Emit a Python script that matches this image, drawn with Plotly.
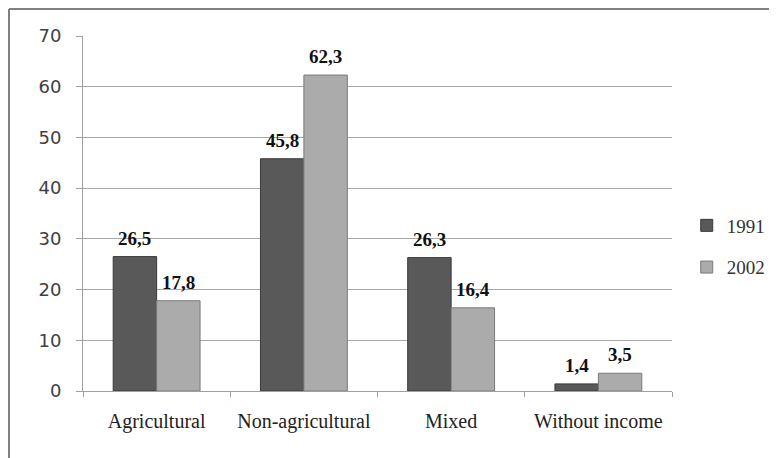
import plotly.graph_objects as go

categories = ["Agricultural", "Non-agricultural", "Mixed", "Without income"]
values_1991 = [26.5, 45.8, 26.3, 1.4]
values_2002 = [17.8, 62.3, 16.4, 3.5]
series_names = ["1991", "2002"]
y_ticks = [0, 10, 20, 30, 40, 50, 60, 70]

def fmt(v):
    return f"{v:.1f}".replace(".", ",")

L, R, T, B = 75, 113, 28, 75
PW, PH = 777 - L - R, 458 - T - B
BARGAP = 0.41
bar_px = PW / len(categories) * (1 - BARGAP) / 2

fig = go.Figure()
fig.add_trace(go.Bar(
    x=categories, y=values_1991, name=series_names[0],
    marker=dict(color="#595959", line=dict(color="#3a3a3a", width=1)),
    legendgroup="a",
))
fig.add_trace(go.Bar(
    x=categories, y=values_2002, name=series_names[1],
    marker=dict(color="#ababab", line=dict(color="#7a7a7a", width=1)),
    legendgroup="b",
))

annotations = []
for vals, shift in ((values_1991, -bar_px / 2), (values_2002, bar_px / 2)):
    for c, v in zip(categories, vals):
        annotations.append(dict(
            x=c, y=v, xref="x", yref="y", text=f"<b>{fmt(v)}</b>",
            showarrow=False, yanchor="bottom", xshift=shift, yshift=6,
            font=dict(family="Liberation Serif", size=19, color="#111111"),
        ))

fig.update_layout(
    width=777, height=458,
    margin=dict(l=L, r=R, t=T, b=B),
    paper_bgcolor="white", plot_bgcolor="white",
    barmode="group", bargap=BARGAP, bargroupgap=0,
    showlegend=True,
    legend=dict(x=1.025, xanchor="left", y=0.407, yanchor="middle",
                font=dict(family="Liberation Serif", size=19, color="#333333"),
                tracegroupgap=14, itemwidth=30, bgcolor="rgba(0,0,0,0)"),
    font=dict(family="DejaVu Sans", color="#404040"),
    xaxis=dict(
        showline=True, linecolor="#a0a0a0", linewidth=1,
        ticks="outside", tickson="boundaries", ticklen=5, tickcolor="#a0a0a0",
        tickfont=dict(family="Liberation Serif", size=20, color="#222222"),
        ticklabelstandoff=12,
        showgrid=False,
    ),
    yaxis=dict(
        range=[0, 70], tickvals=y_ticks,
        showline=True, linecolor="#a0a0a0", linewidth=1,
        ticks="outside", ticklen=6, tickcolor="#a0a0a0",
        showgrid=True, gridcolor="#a8a8a8", gridwidth=1,
        tickfont=dict(family="DejaVu Sans", size=18, color="#404040"),
        ticklabelstandoff=11,
        zeroline=False,
    ),
    annotations=annotations,
    shapes=[
        dict(type="line", xref="paper", yref="paper",
             x0=-(L - 1) / PW, x1=(777 - L) / PW, y0=(PH + T - 1) / PH, y1=(PH + T - 1) / PH,
             line=dict(color="#808080", width=2)),
        dict(type="line", xref="paper", yref="paper",
             x0=-(L - 1) / PW, x1=-(L - 1) / PW, y0=(PH + T - 1) / PH, y1=-B / PH,
             line=dict(color="#808080", width=2)),
    ],
)

fig.write_html("out.html")
